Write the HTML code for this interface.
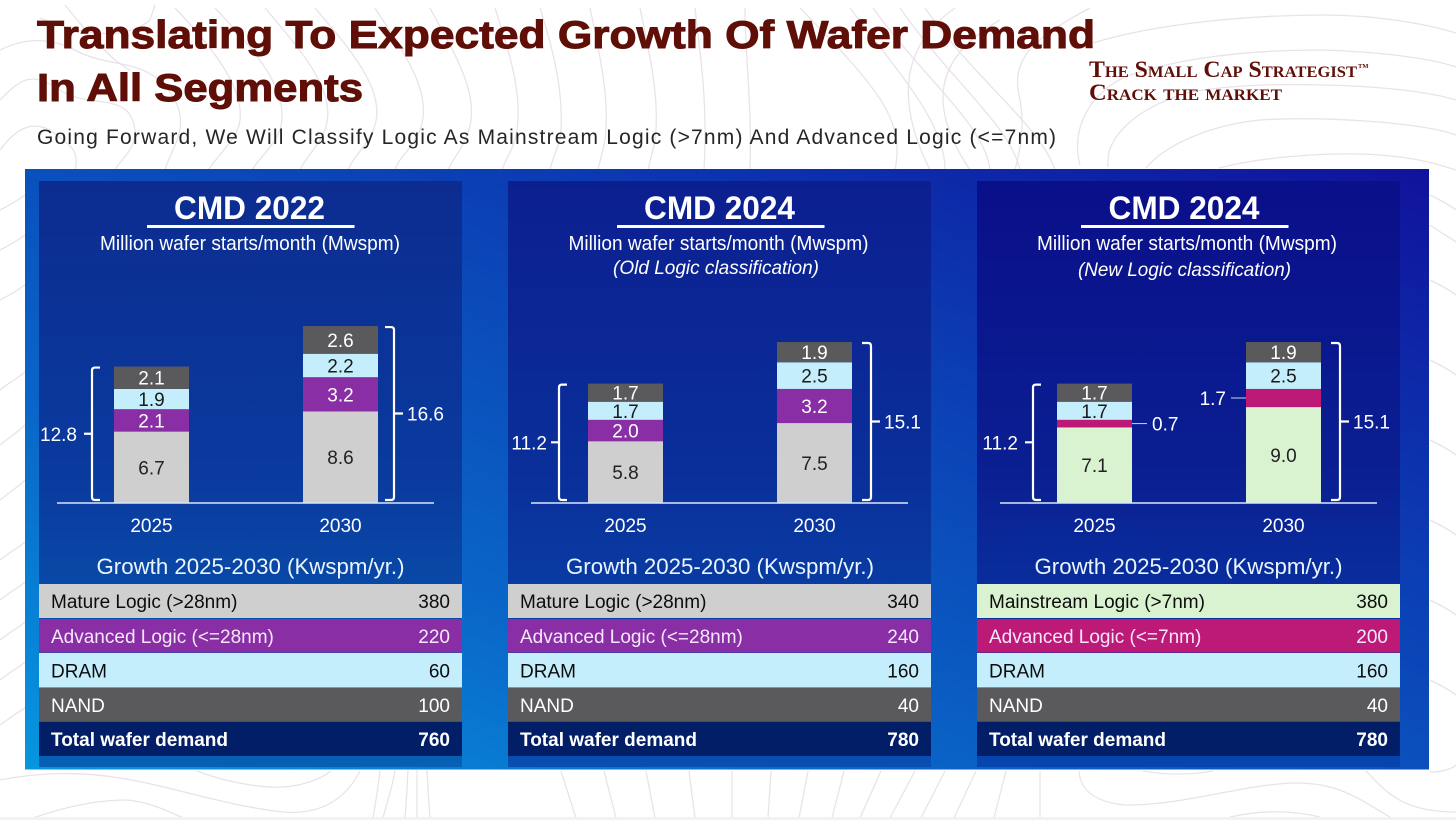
<!DOCTYPE html>
<html lang="en">
<head>
<meta charset="utf-8">
<title>Translating To Expected Growth Of Wafer Demand In All Segments</title>
<style>
html,body{margin:0;padding:0;background:#fff;}
body{width:1456px;height:820px;overflow:hidden;}
svg{display:block;}
text{font-family:"Liberation Sans",Arial,sans-serif;}
</style>
</head>
<body>
<svg id="slide" xmlns="http://www.w3.org/2000/svg" width="1456" height="820" viewBox="0 0 1456 820">
  <defs>
    <linearGradient id="outerGrad" x1="0" y1="1" x2="1" y2="0">
      <stop offset="0" stop-color="#0796e0"/>
      <stop offset="0.3" stop-color="#0a66c8"/>
      <stop offset="0.65" stop-color="#0b3fb4"/>
      <stop offset="1" stop-color="#10129c"/>
    </linearGradient>
    <linearGradient id="panelGrad1" x1="0" y1="0" x2="0" y2="1">
      <stop offset="0" stop-color="#0c2c90"/>
      <stop offset="0.5" stop-color="#0a3a9e"/>
      <stop offset="1" stop-color="#0660b4"/>
    </linearGradient>
    <linearGradient id="panelGrad2" x1="0" y1="0" x2="0" y2="1">
      <stop offset="0" stop-color="#0c1f90"/>
      <stop offset="0.5" stop-color="#0a2f9a"/>
      <stop offset="1" stop-color="#074fb0"/>
    </linearGradient>
    <linearGradient id="panelGrad3" x1="0" y1="0" x2="0" y2="1">
      <stop offset="0" stop-color="#0a0f8a"/>
      <stop offset="0.5" stop-color="#0a1f92"/>
      <stop offset="1" stop-color="#0745ae"/>
    </linearGradient>
  </defs>

  <g id="contours" fill="none" stroke="#e9e3e9" stroke-width="1.3"></g>

  <rect x="0" y="0" width="1456" height="5" fill="#ffffff"/>
  <rect x="0" y="817" width="1456" height="3" fill="#f1f2f4"/>

  <text x="37" y="48" font-size="39" font-weight="700" fill="#5f0f07" stroke="#5f0f07" stroke-width="1" textLength="1058" lengthAdjust="spacingAndGlyphs">Translating To Expected Growth Of Wafer Demand</text>
  <text x="37" y="101" font-size="39" font-weight="700" fill="#5f0f07" stroke="#5f0f07" stroke-width="1" textLength="326" lengthAdjust="spacingAndGlyphs">In All Segments</text>
  <text x="37" y="144" font-size="21" fill="#262626" textLength="1019" lengthAdjust="spacing">Going Forward, We Will Classify Logic As Mainstream Logic (&gt;7nm) And Advanced Logic (&lt;=7nm)</text>

  <text x="1089" y="77" font-size="23" font-weight="700" fill="#5f0f07" textLength="268" lengthAdjust="spacingAndGlyphs" style="font-family:'Liberation Serif',serif;font-variant:small-caps;">The Small Cap Strategist</text>
  <text x="1358" y="68" font-size="6.5" font-weight="700" fill="#5f0f07" style="font-family:'Liberation Serif',serif;">TM</text>
  <text x="1089" y="100" font-size="23" font-weight="700" fill="#5f0f07" textLength="193" lengthAdjust="spacingAndGlyphs" style="font-family:'Liberation Serif',serif;font-variant:small-caps;">Crack the market</text>

  <rect x="25" y="169" width="1404" height="600.5" fill="url(#outerGrad)"/>
  <g id="charts"></g>
</svg>

<script>
// ---- Chart data ----
const categories = ['2025', '2030'];
const segmentNames = ['logic-base', 'logic-advanced', 'dram', 'nand'];

const panel1Titles = ['CMD 2022', 'Million wafer starts/month (Mwspm)', ''];
const panel1Values2025 = [6.7, 2.1, 1.9, 2.1];
const panel1Values2030 = [8.6, 3.2, 2.2, 2.6];
const panel1Totals = [12.8, 16.6];
const panel1RowLabels = ['Mature Logic (>28nm)', 'Advanced Logic (<=28nm)', 'DRAM', 'NAND', 'Total wafer demand'];
const panel1RowValues = [380, 220, 60, 100, 760];

const panel2Titles = ['CMD 2024', 'Million wafer starts/month (Mwspm)', '(Old Logic classification)'];
const panel2Values2025 = [5.8, 2.0, 1.7, 1.7];
const panel2Values2030 = [7.5, 3.2, 2.5, 1.9];
const panel2Totals = [11.2, 15.1];
const panel2RowLabels = ['Mature Logic (>28nm)', 'Advanced Logic (<=28nm)', 'DRAM', 'NAND', 'Total wafer demand'];
const panel2RowValues = [340, 240, 160, 40, 780];

const panel3Titles = ['CMD 2024', 'Million wafer starts/month (Mwspm)', '(New Logic classification)'];
const panel3Values2025 = [7.1, 0.7, 1.7, 1.7];
const panel3Values2030 = [9.0, 1.7, 2.5, 1.9];
const panel3Totals = [11.2, 15.1];
const panel3RowLabels = ['Mainstream Logic (>7nm)', 'Advanced Logic (<=7nm)', 'DRAM', 'NAND', 'Total wafer demand'];
const panel3RowValues = [380, 200, 160, 40, 780];

const growthTitle = 'Growth 2025-2030 (Kwspm/yr.)';

// ---- Axis functions ----
const BASE_Y = 503;
const PX_PER_UNIT = 10.66;
function yScale(v) { return BASE_Y - v * PX_PER_UNIT; }
function barLeft(panel, catIndex) { return panel.bar0 + catIndex * 189; }

const SVGNS = 'http://www.w3.org/2000/svg';
const BAR_W = 75;

function mk(parent, tag, attrs, txt) {
  const el = document.createElementNS(SVGNS, tag);
  for (const k in attrs) el.setAttribute(k, attrs[k]);
  if (txt !== undefined) el.textContent = txt;
  parent.appendChild(el);
  return el;
}

// ---- Background contours (decorative) ----
const contours = document.getElementById('contours');
const contourPaths = [
  // left diagonal / wavy family, top band
  'M0 50 C30 35 55 40 75 50 C110 70 150 55 175 100 C190 130 170 150 165 170',
  'M0 100 C20 80 30 70 60 90 C90 110 130 90 135 130 C136 150 120 160 115 170',
  'M40 18 C70 30 120 45 150 20 L155 5',
  'M0 150 C15 130 30 120 50 130 C70 145 80 150 75 170',
  'M65 5 C85 30 110 60 130 70',
  'M175 8 C215 50 255 100 235 135 C225 150 215 160 208 170',
  'M215 8 C255 50 300 100 275 140 C265 155 258 160 252 170',
  'M265 8 C305 55 345 100 320 140 C310 155 305 160 300 170',
  'M315 8 C355 55 395 100 368 140 C358 155 352 160 348 170',
  'M375 8 C405 55 440 100 415 140 C405 155 398 160 395 170',
  'M430 8 C455 55 485 100 465 140 C458 155 452 160 448 170',
  'M495 8 C510 55 525 100 515 140 C510 155 505 160 502 170',
  'M540 8 C555 55 565 100 560 140 C555 155 552 160 550 170',
  'M590 8 C600 55 610 100 605 140 C602 155 600 160 598 170',
  'M640 8 C650 55 660 100 655 140 C652 155 650 160 648 170',
  'M695 8 C700 55 708 100 704 170',
  'M745 8 C745 55 752 100 750 170',
  'M800 8 C880 90 905 120 895 170',
  'M850 8 C905 80 945 125 945 170',
  'M873 8 C925 80 985 125 990 170',
  'M900 8 C950 80 1010 125 1020 170',
  'M925 8 C975 80 1040 125 1055 170',
  'M955 8 C895 50 900 110 930 170',
  'M1000 20 C930 60 930 110 970 170',
  'M1090 8 C1030 40 1010 60 1020 100 C1025 130 1020 150 1015 170',
  // right concentric contours
  'M1093 43 C1160 22 1260 15 1323 15 C1380 15 1430 25 1456 33',
  'M1080 165 C1070 130 1090 90 1130 75 C1190 55 1260 50 1323 50 C1380 52 1430 58 1456 67',
  'M1108 167 C1105 140 1130 110 1190 92 C1240 84 1280 84 1323 85 C1380 86 1430 92 1456 100',
  'M1146 168 C1165 145 1210 125 1260 120 C1320 116 1420 122 1456 135',
  'M1219 168 C1270 155 1340 152 1380 155 C1420 158 1440 165 1456 170',
  // right margin
  'M1430 195 C1440 200 1450 205 1456 210',
  'M1430 225 C1440 232 1450 238 1456 242',
  'M1430 280 C1440 285 1450 290 1456 295',
  'M1430 360 C1440 365 1450 370 1456 375',
  'M1430 440 C1440 445 1450 450 1456 455',
  'M1430 520 C1440 525 1450 530 1456 535',
  'M1430 600 C1440 605 1450 610 1456 615',
  'M1430 680 C1440 685 1450 690 1456 695',
  // left margin
  'M0 210 C10 205 18 200 25 195',
  'M0 250 C10 245 18 240 25 235',
  'M0 300 C10 295 18 290 25 285',
  'M0 390 C10 382 18 378 25 372',
  'M0 445 C10 437 18 432 25 425',
  'M0 500 C10 492 18 487 25 480',
  'M0 560 C10 552 18 548 25 542',
  'M0 600 C10 592 18 588 25 582',
  'M0 640 C10 632 18 628 25 622',
  'M0 680 C10 672 18 668 25 662',
  'M0 725 C10 718 18 712 25 708',
  // bottom band, left
  'M197 771 C225 782 260 788 283 787 C300 786 320 780 331 771',
  'M0 780 C40 772 80 772 113 777 C170 785 220 805 283 812 C320 815 345 800 360 771',
  'M33 818 C70 805 100 800 127 800 C150 802 170 812 183 818',
  'M380 770 C378 790 375 805 373 818',
  'M395 770 C392 790 386 805 383 818',
  'M408 770 C407 790 406 805 405 818',
  'M417 770 L417 818',
  'M427 770 C428 790 429 805 430 818',
  // bottom band, centre verticals
  'M561 771 L576 818',
  'M604 771 L616 818',
  'M646 771 L655 818',
  'M689 771 L695 818',
  'M732 771 L732 818',
  'M771 771 L768 818',
  'M808 771 L799 818',
  'M844 771 L832 818',
  'M881 771 L860 818',
  'M915 771 L890 818',
  'M945 771 L921 818',
  'M976 771 L954 818',
  'M1006 771 L994 818',
  'M1040 771 L1040 818',
  // bottom band, right
  'M1079 771 C1080 790 1095 802 1125 805 C1180 806 1240 785 1293 783 C1340 782 1360 800 1390 817',
  'M1143 771 C1165 775 1190 775 1213 771',
  'M1366 771 C1385 790 1400 812 1456 812',
  'M1230 817 C1260 810 1290 810 1320 817',
  'M1430 772 C1440 772 1450 770 1456 765'
];
contourPaths.forEach(function (d) {
  const p = mk(contours, 'path', { d: d });
  
  
});

// ---- Panels ----
const SEG_COLORS = {
  gray: ['#cfcfcf', '#8a2ea5', '#c5eefc', '#5a5a5c'],
  green: ['#d9f2cf', '#bd1a78', '#c5eefc', '#5a5a5c']
};
const SEG_TEXT = ['#222222', '#ffffff', '#1a1a1a', '#ffffff'];
const ROW_TEXT = ['#0c0c0c', '#f6e8fa', '#0c0c0c', '#ffffff', '#ffffff'];

const panels = [
  { id: 'panel-cmd-2022', x: 39, grad: 'panelGrad1', titles: panel1Titles, v2025: panel1Values2025, v2030: panel1Values2030, totals: panel1Totals, rowLabels: panel1RowLabels, rowValues: panel1RowValues, palette: 'gray', bar0: 114, axisX: 57, lb: 92, rb: 394, titleCx: 249.5, unitCx: 250, noteCx: 0, noteLen: 0, growthCx: 250.5, ruleX: 147, sub3y: 0, lbGap: 15, external: false },
  { id: 'panel-cmd-2024-old', x: 508, grad: 'panelGrad2', titles: panel2Titles, v2025: panel2Values2025, v2030: panel2Values2030, totals: panel2Totals, rowLabels: panel2RowLabels, rowValues: panel2RowValues, palette: 'gray', bar0: 588, axisX: 531, lb: 559, rb: 871, titleCx: 719.5, unitCx: 718.5, noteCx: 716, noteLen: 206, growthCx: 720, ruleX: 617, sub3y: 274, lbGap: 12, external: false },
  { id: 'panel-cmd-2024-new', x: 977, grad: 'panelGrad3', titles: panel3Titles, v2025: panel3Values2025, v2030: panel3Values2030, totals: panel3Totals, rowLabels: panel3RowLabels, rowValues: panel3RowValues, palette: 'green', bar0: 1057, axisX: 1000, lb: 1033, rb: 1340, titleCx: 1184, unitCx: 1187, noteCx: 1184.5, noteLen: 213, growthCx: 1188.5, ruleX: 1081, sub3y: 276, lbGap: 15, external: true }
];

const rowTops = [584, 619, 653, 688, 722];
const rowHeights = [34, 33.5, 34.5, 33.5, 34];

const root = document.getElementById('charts');

panels.forEach(function (p) {
  const g = mk(root, 'g', {});
  
  

  const bg = mk(g, 'rect', { x: p.x, y: 181, width: 423, height: 586, fill: 'url(#' + p.grad + ')' });
  
  

  const t1 = mk(g, 'text', { x: p.titleCx, y: 219, 'text-anchor': 'middle', 'font-size': 32, 'font-weight': 700, fill: '#ffffff', textLength: 151, lengthAdjust: 'spacingAndGlyphs' }, p.titles[0]);
  
  

  const rule = mk(g, 'rect', { x: p.ruleX, y: 225, width: 207.5, height: 3, fill: '#ffffff' });
  
  

  const t2 = mk(g, 'text', { x: p.unitCx, y: 250, 'text-anchor': 'middle', 'font-size': 20, fill: '#ffffff', textLength: 300, lengthAdjust: 'spacingAndGlyphs' }, p.titles[1]);
  
  

  if (p.titles[2]) {
    const t3 = mk(g, 'text', { x: p.noteCx, y: p.sub3y, 'text-anchor': 'middle', 'font-size': 19, 'font-style': 'italic', fill: '#ffffff', textLength: p.noteLen, lengthAdjust: 'spacingAndGlyphs' }, p.titles[2]);
    
    
  }

  // stacked bars
  [p.v2025, p.v2030].forEach(function (vals, c) {
    const x = barLeft(p, c);
    let cum = 0;
    vals.forEach(function (v, s) {
      const yTop = yScale(cum + v);
      const yBot = yScale(cum);
      const bar = mk(g, 'rect', { x: x, y: yTop, width: BAR_W, height: yBot - yTop, fill: SEG_COLORS[p.palette][s] });
      
      
      const isExternal = p.external && s === 1;
      if (!isExternal) {
        const lab = mk(g, 'text', { x: x + BAR_W / 2, y: (yTop + yBot) / 2 + 7, 'text-anchor': 'middle', 'font-size': 19, fill: SEG_TEXT[s] }, v.toFixed(1));
        
        
      } else {
        const midY = (yTop + yBot) / 2;
        const lineX1 = c === 0 ? x + BAR_W : x - 15;
        const lineX2 = c === 0 ? x + BAR_W + 15 : x;
        const leader = mk(g, 'line', { x1: lineX1, x2: lineX2, y1: midY, y2: midY, stroke: '#c9d4f0', 'stroke-width': 1 });
        
        
        const lab = mk(g, 'text', { x: c === 0 ? x + BAR_W + 20 : x - 20, y: midY + 7, 'text-anchor': c === 0 ? 'start' : 'end', 'font-size': 19, fill: '#ffffff' }, v.toFixed(1));
        
        
      }
      cum += v;
    });

    const cat = mk(g, 'text', { x: x + BAR_W / 2, y: 532, 'text-anchor': 'middle', 'font-size': 19, fill: '#ffffff' }, categories[c]);
    
    
  });

  const axis = mk(g, 'line', { x1: p.axisX, x2: p.axisX + 377, y1: BASE_Y, y2: BASE_Y, stroke: '#dbe6fb', 'stroke-width': 1.6 });
  
  

  // total brackets
  const topL = yScale(p.totals[0]) + 1;
  const topR = yScale(p.totals[1]) + 1;
  const bot = BASE_Y - 3;
  const midL = (topL + bot) / 2;
  const midR = (topR + bot) / 2;

  const bl = mk(g, 'path', { d: 'M' + (p.lb + 8) + ' ' + topL + ' H' + (p.lb + 3) + ' Q' + p.lb + ' ' + topL + ' ' + p.lb + ' ' + (topL + 3) + ' V' + (bot - 3) + ' Q' + p.lb + ' ' + bot + ' ' + (p.lb + 3) + ' ' + bot + ' H' + (p.lb + 8) + ' M' + p.lb + ' ' + midL + ' H' + (p.lb - 8), fill: 'none', stroke: '#ffffff', 'stroke-width': 2.2 });
  
  

  const br = mk(g, 'path', { d: 'M' + (p.rb - 9) + ' ' + topR + ' H' + (p.rb - 3) + ' Q' + p.rb + ' ' + topR + ' ' + p.rb + ' ' + (topR + 3) + ' V' + (bot - 3) + ' Q' + p.rb + ' ' + bot + ' ' + (p.rb - 3) + ' ' + bot + ' H' + (p.rb - 9) + ' M' + p.rb + ' ' + midR + ' H' + (p.rb + 9), fill: 'none', stroke: '#ffffff', 'stroke-width': 2.2 });
  
  

  const tl = mk(g, 'text', { x: p.lb - p.lbGap, y: midL + 7, 'text-anchor': 'end', 'font-size': 19, fill: '#ffffff' }, p.totals[0].toFixed(1));
  
  

  const tr = mk(g, 'text', { x: p.rb + 13, y: midR + 7, 'text-anchor': 'start', 'font-size': 19, fill: '#ffffff' }, p.totals[1].toFixed(1));
  
  

  // growth table
  const gt = mk(g, 'text', { x: p.growthCx, y: 574, 'text-anchor': 'middle', 'font-size': 22, fill: '#eaf6ff', textLength: 308, lengthAdjust: 'spacingAndGlyphs' }, growthTitle);
  
  

  p.rowLabels.forEach(function (label, r) {
    const fill = r === 4 ? '#021e66' : SEG_COLORS[p.palette][r];
    const row = mk(g, 'rect', { x: p.x, y: rowTops[r], width: 423, height: rowHeights[r], fill: fill });
    
    

    const weight = r === 4 ? 700 : 400;
    const ty = rowTops[r] + rowHeights[r] / 2 + 7;
    const rl = mk(g, 'text', { x: p.x + 12, y: ty, 'font-size': 19, 'font-weight': weight, fill: ROW_TEXT[r] }, label);
    
    

    const rv = mk(g, 'text', { x: p.x + 411, y: ty, 'text-anchor': 'end', 'font-size': 19, 'font-weight': weight, fill: ROW_TEXT[r] }, String(p.rowValues[r]));
    
    
  });
});
</script>
</body>
</html>
